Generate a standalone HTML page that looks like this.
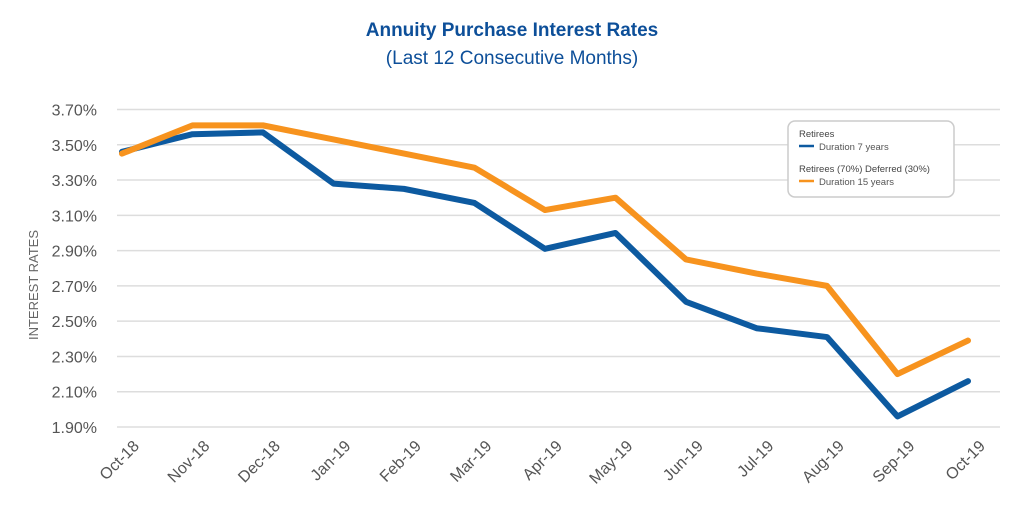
<!DOCTYPE html>
<html><head><meta charset="utf-8"><style>
body{margin:0;background:#fff;}
svg{display:block;font-family:"Liberation Sans",sans-serif;}
</style></head><body>
<svg width="1024" height="512">
<text x="512" y="36" text-anchor="middle" font-size="19" font-weight="bold" fill="#0d4f99">Annuity Purchase Interest Rates</text>
<text x="512" y="64" text-anchor="middle" font-size="19" fill="#0d4f99">(Last 12 Consecutive Months)</text>
<text transform="translate(38,285) rotate(-90)" text-anchor="middle" font-size="13" fill="#666">INTEREST RATES</text>
<g id="grid"></g><g id="ylab"></g><g id="xlab"></g><g id="lines"></g>
<g>
<rect x="788" y="121" width="166" height="76" rx="7" fill="#fff" stroke="#ccc" stroke-width="1.5"/>
<text x="799" y="137" font-size="9.5" fill="#444">Retirees</text>
<line x1="799" y1="146" x2="814" y2="146" stroke="#0d5aa0" stroke-width="2.5"/>
<text x="819" y="150" font-size="9.5" fill="#555">Duration 7 years</text>
<text x="799" y="172" font-size="9.5" fill="#444">Retirees (70%) Deferred (30%)</text>
<line x1="799" y1="181" x2="814" y2="181" stroke="#f7931e" stroke-width="2.5"/>
<text x="819" y="185" font-size="9.5" fill="#555">Duration 15 years</text>
</g>
</svg>
<script>
const categories=["Oct-18","Nov-18","Dec-18","Jan-19","Feb-19","Mar-19","Apr-19","May-19","Jun-19","Jul-19","Aug-19","Sep-19","Oct-19"];
const retirees=[3.46,3.56,3.57,3.28,3.25,3.17,2.91,3.00,2.61,2.46,2.41,1.96,2.16];
const deferred=[3.45,3.61,3.61,3.53,3.45,3.37,3.13,3.20,2.85,2.77,2.70,2.20,2.39];
const yTicks=[1.90,2.10,2.30,2.50,2.70,2.90,3.10,3.30,3.50,3.70];
const NS="http://www.w3.org/2000/svg";
function xs(i){return 122+i*70.5;}
function ys(v){return 427-(v-1.9)/1.8*317.5;}
const grid=document.getElementById('grid'),ylab=document.getElementById('ylab'),xlab=document.getElementById('xlab'),lines=document.getElementById('lines');
yTicks.forEach(t=>{
const l=document.createElementNS(NS,'line');
l.setAttribute('x1',117);l.setAttribute('x2',1000);l.setAttribute('y1',ys(t));l.setAttribute('y2',ys(t));
l.setAttribute('stroke','#ddd');l.setAttribute('stroke-width','1.5');


grid.appendChild(l);
const tx=document.createElementNS(NS,'text');
tx.setAttribute('x',97);tx.setAttribute('y',ys(t)+6);tx.setAttribute('text-anchor','end');
tx.setAttribute('font-size','16');tx.setAttribute('fill','#555');tx.textContent=t.toFixed(2)+'%';


ylab.appendChild(tx);
});
categories.forEach((c,i)=>{
const tx=document.createElementNS(NS,'text');
const x=xs(i)+18,y=447;
tx.setAttribute('transform',`translate(${x},${y}) rotate(-45)`);
tx.setAttribute('text-anchor','end');tx.setAttribute('font-size','16');tx.setAttribute('fill','#555');
tx.textContent=c;


xlab.appendChild(tx);
});
function draw(arr,color,name){
const p=document.createElementNS(NS,'polyline');
p.setAttribute('points',arr.map((v,i)=>xs(i)+','+ys(v)).join(' '));
p.setAttribute('fill','none');p.setAttribute('stroke',color);p.setAttribute('stroke-width','6');
p.setAttribute('stroke-linejoin','round');p.setAttribute('stroke-linecap','round');


lines.appendChild(p);
}
draw(retirees,'#0d5aa0','retirees-line');
draw(deferred,'#f7931e','deferred-line');
</script>
</body></html>
